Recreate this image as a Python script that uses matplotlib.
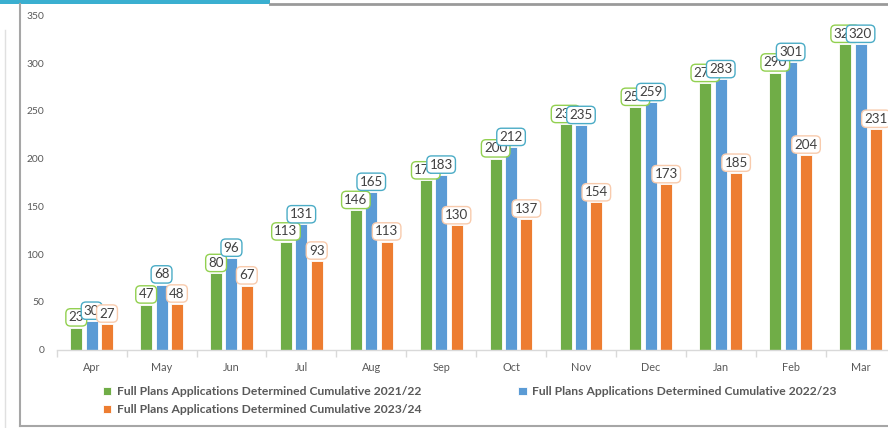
import matplotlib
matplotlib.use("Agg")
import matplotlib.pyplot as plt
from matplotlib.lines import Line2D
from matplotlib.patches import Rectangle
import numpy as np

# ── data ──────────────────────────────────────────────
months = ["Apr", "May", "Jun", "Jul", "Aug", "Sep", "Oct", "Nov", "Dec", "Jan", "Feb", "Mar"]
fy_2122 = [23, 47, 80, 113, 146, 177, 200, 236, 254, 279, 290, 320]
fy_2223 = [30, 68, 96, 131, 165, 183, 212, 235, 259, 283, 301, 320]
fy_2324 = [27, 48, 67, 93, 113, 130, 137, 154, 173, 185, 204, 231]
series_names = [
    "Full Plans Applications Determined Cumulative 2021/22",
    "Full Plans Applications Determined Cumulative 2022/23",
    "Full Plans Applications Determined Cumulative 2023/24",
]
y_ticks = [0, 50, 100, 150, 200, 250, 300, 350]

# ── style ─────────────────────────────────────────────
GREEN = "#70AD47"
BLUE = "#5B9BD5"
ORANGE = "#ED7D31"
GREEN_EDGE = "#92D050"
BLUE_EDGE = "#4BACC6"
ORANGE_EDGE = "#F8CBAD"
TEXT = "#595959"
LABEL_TEXT = "#404040"
AXIS_GRAY = "#D9D9D9"
FRAME_GRAY = "#A6A6A6"
TEAL = "#3AAFD0"

plt.rcParams["font.family"] = ["Lato", "DejaVu Sans"]

W, H = 888, 428
fig = plt.figure(figsize=(W / 100, H / 100), dpi=100)
fig.patch.set_facecolor("white")

# frame decorations (pixel -> figure coords)
def fx(px):
    return px / W

def fy(py):
    return 1 - py / H

fig.add_artist(Rectangle((0, fy(3.5)), fx(270), 3.5 / H, transform=fig.transFigure,
                         facecolor=TEAL, edgecolor="none"))
fig.add_artist(Line2D([fx(270), 1], [fy(4), fy(4)], transform=fig.transFigure,
                      color="#9A9A9A", lw=2))
fig.add_artist(Line2D([fx(20), fx(20)], [fy(4), fy(426)], transform=fig.transFigure,
                      color=FRAME_GRAY, lw=1.5))
fig.add_artist(Line2D([fx(20), 1], [fy(426), fy(426)], transform=fig.transFigure,
                      color=FRAME_GRAY, lw=1.5))
fig.add_artist(Line2D([fx(5), fx(5)], [fy(30), fy(428)], transform=fig.transFigure,
                      color="#E0E0E0", lw=1))

ax_left, ax_right = 56.7, 895.5
ax_top, ax_bottom = 15.3, 349.5
ax = fig.add_axes([fx(ax_left), fy(ax_bottom), (ax_right - ax_left) / W, (ax_bottom - ax_top) / H])
ax.set_facecolor("white")

x = np.arange(len(months))
bw = 0.172
off = 0.22
series = [fy_2122, fy_2223, fy_2324]
colors = [GREEN, BLUE, ORANGE]
edges = [GREEN_EDGE, BLUE_EDGE, ORANGE_EDGE]

bars = []
for i, (vals, c) in enumerate(zip(series, colors)):
    b = ax.bar(x + (i - 1) * off, vals, width=bw, color=c, edgecolor="white",
               linewidth=0.6, zorder=2, label=series_names[i])
    bars.append(b)

# data labels, drawn series by series so later ones sit on top
z = 5
for i, (vals, ec) in enumerate(zip(series, edges)):
    for xi, v in zip(x, vals):
        ax.annotate(str(v), xy=(xi + (i - 1) * off, v), xytext=(0, 3.0),
                    textcoords="offset points", ha="center", va="bottom",
                    fontsize=9.6, color=LABEL_TEXT, zorder=z,
                    bbox=dict(boxstyle="round,pad=0.2,rounding_size=0.35",
                              fc="white", ec=ec, lw=1.0))
        z += 0.01
    z += 1

ax.set_xlim(-0.5, len(months) - 0.5)
ax.set_ylim(0, 350)
ax.set_yticks(y_ticks)
ax.set_yticklabels([str(t) for t in y_ticks], fontsize=7.4, color=TEXT)
ax.tick_params(axis="y", length=0, pad=9)

ax.set_xticks(x)
ax.set_xticklabels(months, fontsize=7.8, color=TEXT)
ax.set_xticks(np.arange(-0.5, len(months), 1.0), minor=True)
ax.tick_params(axis="x", which="major", length=0, pad=9)
ax.tick_params(axis="x", which="minor", length=5, color=AXIS_GRAY, width=1)

for s in ["top", "right", "left"]:
    ax.spines[s].set_visible(False)
ax.spines["bottom"].set_color(AXIS_GRAY)
ax.spines["bottom"].set_linewidth(1)

# legend: row 1 = 2021/22, 2022/23 ; row 2 = 2023/24
handles = [bars[0], bars[2], bars[1]]
labels = [series_names[0], series_names[2], series_names[1]]
leg = fig.legend(handles, labels, ncol=2, loc="upper left",
                 bbox_to_anchor=(fx(103), fy(386)), frameon=False,
                 prop={"weight": "bold", "size": 8.7},
                 handlelength=0.7, handleheight=0.7, handletextpad=0.45,
                 columnspacing=8.0, labelspacing=0.6, borderaxespad=0, borderpad=0)
for t in leg.get_texts():
    t.set_color(TEXT)

fig.savefig("out.png", dpi=100, facecolor="white")
